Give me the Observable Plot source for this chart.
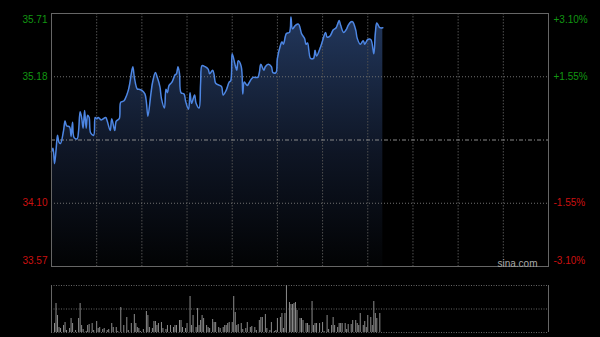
<!DOCTYPE html>
<html><head><meta charset="utf-8">
<script src="https://cdn.jsdelivr.net/npm/d3@7"></script>
<script src="https://cdn.jsdelivr.net/npm/@observablehq/plot@0.6"></script>
<style>
html,body{margin:0;padding:0;background:#000;}
#chart{position:relative;width:600px;height:337px;background:#000;overflow:hidden;}
#chart svg{display:block;position:absolute;left:0;}
</style></head><body><div id="chart"></div>
<script>
// ---- data (minute index from the open, HK session = 330 minutes) ----
const priceTime = [0,1,2,3,4,5,6,8,9,10,12,13,14,15,17,18,19,20,21,22,23,24,25,26,28,29,30,31,33,36,37,39,40,42,43,45,46,48,49,51,52,54,55,57,58,60,62,63,64,66,67,69,70,72,73,75,76,77,78,80,82,83,84,85,86,88,89,91,92,93,95,96,98,99,100,102,104,105,107,108,109,112,113,114,116,118,119,120,122,123,124,126,127,128,130,131,133,134,137,138,139,141,142,144,146,147,149,150,152,153,154,156,158,159,160,162,164,165,166,168,169,170,172,174,175,176,179,180,182,183,185,187,189,190,191,192,194,196,197,199,200,202,203,205,207,208,210,212,214,215,216,217,218,220];
const priceValue = [34.54,34.57,34.44,34.55,34.68,34.62,34.61,34.72,34.80,34.76,34.75,34.67,34.79,34.66,34.65,34.72,34.88,34.83,34.74,34.89,34.74,34.85,34.83,34.70,34.68,34.83,34.82,34.83,34.81,34.83,34.80,34.72,34.82,34.72,34.80,34.82,34.96,34.97,34.99,35.06,35.12,35.26,35.17,35.07,35.07,35.06,35.03,34.96,34.84,35.03,35.12,35.21,35.18,35.09,34.99,34.91,35.07,35.04,35.10,35.13,35.19,35.20,35.26,35.20,35.04,35.03,34.97,34.90,35.04,34.95,35.02,34.95,34.91,35.12,35.27,35.26,35.24,35.20,35.23,35.19,35.12,35.10,35.09,35.02,35.06,35.13,35.14,35.37,35.27,35.23,35.31,35.26,35.03,35.13,35.10,35.12,35.16,35.17,35.17,35.21,35.28,35.23,35.26,35.28,35.26,35.21,35.21,35.33,35.44,35.47,35.45,35.54,35.55,35.68,35.58,35.61,35.62,35.59,35.54,35.50,35.45,35.46,35.33,35.33,35.40,35.35,35.44,35.48,35.55,35.51,35.52,35.57,35.59,35.62,35.65,35.61,35.55,35.58,35.61,35.64,35.64,35.57,35.50,35.45,35.48,35.45,35.49,35.49,35.37,35.54,35.63,35.61,35.59,35.59];

const volTime = [0,2,3,4,5,6,8,9,10,12,13,14,16,18,19,20,21,23,24,25,27,28,30,31,32,34,35,37,38,40,41,43,44,46,48,50,51,53,55,56,57,58,59,61,63,64,65,67,68,69,70,71,73,74,76,77,79,81,82,83,85,86,87,89,90,92,93,94,96,97,98,99,100,101,103,104,105,107,108,109,111,112,114,115,116,117,118,120,121,122,123,124,126,127,129,130,132,133,135,136,138,139,140,142,143,145,146,148,149,150,152,153,154,155,156,158,159,160,161,162,163,165,166,167,169,170,171,173,174,175,176,178,180,181,183,184,186,187,188,190,191,192,193,195,196,197,199,200,202,203,204,205,207,208,209,210,212,213,214,215,216,218];
const volValue = [9,9,29,17,5,4,7,10,2,4,14,9,2,14,29,7,3,1,7,8,9,2,11,4,5,3,4,2,3,9,5,5,1,25,7,15,2,9,18,9,5,4,1,3,21,17,5,4,11,11,7,9,10,4,3,7,7,5,7,7,12,12,5,4,9,36,7,17,5,24,7,12,17,14,7,5,4,13,10,10,5,4,5,7,7,9,10,10,36,20,7,8,9,3,4,10,5,6,5,2,12,15,15,18,4,2,10,1,2,14,15,19,4,19,47,30,28,28,29,30,22,14,14,12,9,9,7,31,7,9,9,9,10,1,17,3,7,15,7,5,9,9,9,9,3,8,8,12,12,9,7,19,7,11,5,17,15,7,31,19,14,19];

const sessionMinutes = 330;
const timeTicks = [30,60,90,120,150,180,210,240,270,300];
const prevClose = 34.64;
const priceTicks = [35.71, 35.175, 34.64, 34.105, 33.57];
const priceLabels = ["35.71","35.18","34.64","34.10","33.57"];
const pctLabels = ["+3.10%","+1.55%","0.00%","-1.55%","-3.10%"];
const volMax = 47;

// ---- styles ----
const UP = "#129612", DOWN = "#cc1010";
const FONT = "'Liberation Sans', Arial, sans-serif";

const priceData = priceTime.map((t, i) => ({t, p: priceValue[i]}));
const volData = volTime.map((t, i) => ({t, v: volValue[i]}));
const labelRows = priceTicks.map((v, i) => ({v, label: priceLabels[i], pct: pctLabels[i], color: v > prevClose ? UP : DOWN, i}));
const topRows = labelRows.filter(d => d.i === 0);
const midRows = labelRows.filter(d => d.i === 1 || d.i === 3);
const botRows = labelRows.filter(d => d.i === 4);

const gradientDefs = () => {
  const defs = d3.create("svg:defs");
  const g = defs.append("linearGradient").attr("id", "pg").attr("x1", 0).attr("x2", 0).attr("y1", 0).attr("y2", 1);
  g.append("stop").attr("offset", "0%").attr("stop-color", "#22375c");
  g.append("stop").attr("offset", "55%").attr("stop-color", "#0e1524");
  g.append("stop").attr("offset", "100%").attr("stop-color", "#020304");
  return defs.node();
};

const labelMarks = (rows, dy) => [
  Plot.text(rows, {y: "v", text: "label", frameAnchor: "left", textAnchor: "end", dx: -4, dy, fill: "color"}),
  Plot.text(rows, {y: "v", text: "pct", frameAnchor: "right", textAnchor: "start", dx: 5, dy, fill: "color"})
];

const main = Plot.plot({
  width: 600, height: 270,
  marginLeft: 51, marginRight: 52, marginTop: 13, marginBottom: 4,
  x: {domain: [0, sessionMinutes], axis: null},
  y: {domain: [priceTicks[4], priceTicks[0]], axis: null},
  color: {type: "identity"},
  style: {background: "transparent", fontFamily: FONT, fontSize: "10px"},
  marks: [
    gradientDefs,
    Plot.areaY(priceData, {x: "t", y1: priceTicks[4], y2: "p", fill: "url(#pg)", curve: "catmull-rom"}),
    Plot.ruleX(timeTicks, {stroke: "#505050", strokeDasharray: "1.5,1.5"}),
    Plot.ruleY([priceTicks[1], priceTicks[3]], {stroke: "#707070", strokeDasharray: "1,2"}),
    Plot.ruleY([prevClose], {stroke: "#8a8a8a", strokeDasharray: "4,2,1,2"}),
    Plot.line(priceData, {x: "t", y: "p", stroke: "#4d86e3", strokeWidth: 1.5, curve: "catmull-rom"}),
    Plot.frame({stroke: "#666"}),
    ...labelMarks(topRows, 6),
    ...labelMarks(midRows, 0),
    ...labelMarks(botRows, -6),
    Plot.text(["sina.com"], {text: d => d, frameAnchor: "bottom-right", textAnchor: "end", dx: -11, dy: 0, fill: "#a8a8a8", fontSize: 10})
  ]
});

const vol = Plot.plot({
  width: 600, height: 67,
  marginLeft: 51, marginRight: 52, marginTop: 15, marginBottom: 5,
  x: {domain: [0, sessionMinutes], axis: null},
  y: {domain: [0, volMax], axis: null},
  style: {background: "transparent"},
  marks: [
    Plot.ruleY([0, volMax / 2, volMax], {stroke: "#666", strokeDasharray: "1,1.5"}),
    Plot.ruleX(volData, {x: "t", y1: 0, y2: "v", stroke: "#8c8c8c", strokeWidth: 1}),
    Plot.ruleX([0, sessionMinutes], {stroke: "#666"})
  ]
});

const chart = document.getElementById("chart");
main.style.top = "0px";
vol.style.top = "270px";
chart.appendChild(main);
chart.appendChild(vol);
</script></body></html>
